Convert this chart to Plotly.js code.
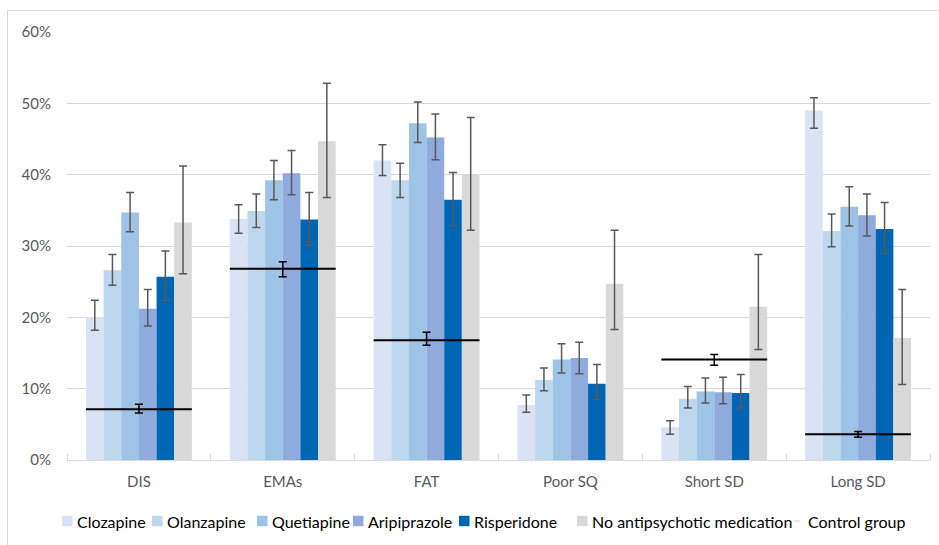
<!DOCTYPE html>
<html>
<head>
<meta charset="utf-8">
<script src="https://cdn.plot.ly/plotly-3.0.1.min.js"></script>
<style>
  html, body { margin: 0; padding: 0; background: #fff; overflow: hidden; }
  #chart { width: 939px; height: 545px; }
  #frame { position: absolute; left: 7px; top: 10px; width: 2000px; height: 2000px;
           border: 1px solid #d9d9d9; pointer-events: none; z-index: 5; }
</style>
</head>
<body>
<div id="chart"></div>
<div id="frame"></div>
<script>
// ---- Data (percent) ----
const categories = ['DIS', 'EMAs', 'FAT', 'Poor SQ', 'Short SD', 'Long SD'];
const seriesNames = ['Clozapine', 'Olanzapine', 'Quetiapine', 'Aripiprazole', 'Risperidone', 'No antipsychotic medication'];
const seriesColors = ['#dae3f3', '#bdd7ee', '#9dc3e6', '#8faadc', '#0066b3', '#d9d9d9'];

const clozapine     = [20.0, 33.8, 42.0,  7.7,  4.6, 49.0];
const clozapineHi   = [22.4, 35.8, 44.2,  9.1,  5.5, 50.8];
const clozapineLo   = [18.2, 31.8, 39.9,  6.7,  3.6, 46.5];

const olanzapine    = [26.6, 34.9, 39.2, 11.2,  8.6, 32.1];
const olanzapineHi  = [28.8, 37.3, 41.6, 12.9, 10.3, 34.5];
const olanzapineLo  = [24.5, 32.6, 36.8,  9.7,  7.3, 29.9];

const quetiapine    = [34.7, 39.2, 47.2, 14.1,  9.6, 35.5];
const quetiapineHi  = [37.5, 42.0, 50.2, 16.3, 11.5, 38.3];
const quetiapineLo  = [32.0, 36.5, 44.5, 12.2,  8.0, 32.8];

const aripiprazole   = [21.2, 40.2, 45.2, 14.3,  9.5, 34.3];
const aripiprazoleHi = [23.9, 43.4, 48.5, 16.5, 11.6, 37.3];
const aripiprazoleLo = [18.8, 37.2, 42.1, 12.1,  7.9, 31.4];

const risperidone   = [25.7, 33.7, 36.5, 10.7,  9.4, 32.4];
const risperidoneHi = [29.3, 37.5, 40.3, 13.4, 12.0, 36.1];
const risperidoneLo = [22.4, 30.1, 32.9,  8.5,  7.3, 29.0];

const noMed   = [33.3, 44.7, 40.0, 24.7, 21.5, 17.1];
const noMedHi = [41.2, 52.8, 48.0, 32.2, 28.8, 23.9];
const noMedLo = [26.1, 36.8, 32.2, 18.3, 15.5, 10.6];

const control   = [ 7.1, 26.8, 16.8, null, 14.1, 3.6];
const controlHi = [ 7.8, 27.8, 17.9, null, 14.8, 4.0];
const controlLo = [ 6.6, 25.7, 16.1, null, 13.3, 3.2];
const controlName = 'Control group';

const yTicks = [0, 10, 20, 30, 40, 50, 60];

// ---- Build ----
const vals = [clozapine, olanzapine, quetiapine, aripiprazole, risperidone, noMed];
const his  = [clozapineHi, olanzapineHi, quetiapineHi, aripiprazoleHi, risperidoneHi, noMedHi];
const los  = [clozapineLo, olanzapineLo, quetiapineLo, aripiprazoleLo, risperidoneLo, noMedLo];

const idx = categories.map((c, i) => i);
const FONT = 'Lato, "Liberation Sans", Arial, sans-serif';
const BARGAP = 0.264;
const half = (1 - BARGAP) / 2;

const traces = vals.map((v, s) => ({
  type: 'bar',
  name: seriesNames[s],
  x: idx,
  y: v,
  marker: { color: seriesColors[s], line: { width: 0 } },
  error_y: {
    type: 'data', symmetric: false,
    array: v.map((y, i) => his[s][i] - y),
    arrayminus: v.map((y, i) => y - los[s][i]),
    color: '#595959', thickness: 1.5, width: 4
  },
  hoverinfo: 'skip',
  showlegend: false
}));

// control group: horizontal segment across each group
const cx = [], cy = [];
control.forEach((v, i) => {
  if (v === null) return;
  cx.push(i - half, i + half, null);
  cy.push(v, v, null);
});
traces.push({
  type: 'scatter', mode: 'lines', name: controlName,
  x: cx, y: cy, line: { color: '#000000', width: 2 },
  hoverinfo: 'skip', showlegend: false, cliponaxis: false
});
traces.push({
  type: 'scatter', mode: 'markers', name: controlName,
  x: idx, y: control,
  marker: { size: 1, color: 'rgba(0,0,0,0)' },
  error_y: {
    type: 'data', symmetric: false,
    array: control.map((y, i) => y === null ? null : controlHi[i] - y),
    arrayminus: control.map((y, i) => y === null ? null : y - controlLo[i]),
    color: '#000000', thickness: 1.5, width: 4
  },
  hoverinfo: 'skip', showlegend: false
});

// ---- Manual legend (pixel layout) ----
const W = 939, H = 545;
const M = { l: 67, r: 9, t: 32, b: 85 };
const pw = W - M.l - M.r, ph = H - M.t - M.b;
const px2x = p => (p - M.l) / pw;
const py2y = p => (H - M.b - p) / ph;
const legendSquareX = [62, 152, 257, 353, 459, 577];
const legendY = 521;
const shapes = [], annotations = [];
seriesNames.forEach((n, s) => {
  const x0 = legendSquareX[s];
  shapes.push({
    type: 'rect', xref: 'paper', yref: 'paper',
    x0: px2x(x0), x1: px2x(x0 + 10.5), y0: py2y(legendY + 5.2), y1: py2y(legendY - 5.2),
    fillcolor: seriesColors[s], line: { width: 0 }
  });
  annotations.push({
    xref: 'paper', yref: 'paper', x: px2x(x0 + 13), y: py2y(legendY),
    xanchor: 'left', yanchor: 'middle', showarrow: false, text: n,
    font: { family: FONT, size: 16, color: '#000000' }
  });
});
shapes.push({
  type: 'line', xref: 'paper', yref: 'paper',
  x0: px2x(794), x1: px2x(800), y0: py2y(legendY), y1: py2y(legendY),
  line: { color: '#d9d9d9', width: 1 }
});
annotations.push({
  xref: 'paper', yref: 'paper', x: px2x(806), y: py2y(legendY),
  xanchor: 'left', yanchor: 'middle', showarrow: false, text: controlName,
  font: { family: FONT, size: 16, color: '#000000' }
});

const layout = {
  width: W, height: H,
  margin: M,
  paper_bgcolor: '#ffffff', plot_bgcolor: '#ffffff',
  font: { family: FONT, size: 15, color: '#595959' },
  barmode: 'group', bargap: BARGAP, bargroupgap: 0,
  showlegend: false,
  xaxis: {
    range: [-0.5, categories.length - 0.5],
    tickmode: 'array', tickvals: idx, ticktext: categories,
    ticks: '', showgrid: false, zeroline: false,
    showline: true, linecolor: '#d9d9d9', linewidth: 1,
    ticklabelstandoff: 8,
    tickfont: { family: FONT, size: 15, color: '#595959' },
    minor: { tickmode: 'linear', tick0: -0.5, dtick: 1, ticks: 'inside', ticklen: 6,
             tickcolor: '#d9d9d9', tickwidth: 1, showgrid: false }
  },
  yaxis: {
    range: [0, 60], tickmode: 'array', tickvals: yTicks,
    ticktext: yTicks.map(t => t + '%'),
    showgrid: true, gridcolor: '#d9d9d9', gridwidth: 1,
    zeroline: false, showline: false, ticks: '',
    ticklabelstandoff: 15,
    tickfont: { family: FONT, size: 15, color: '#595959' }
  },
  shapes: shapes,
  annotations: annotations
};

Plotly.newPlot('chart', traces, layout, { staticPlot: true, displayModeBar: false });
</script>
</body>
</html>
